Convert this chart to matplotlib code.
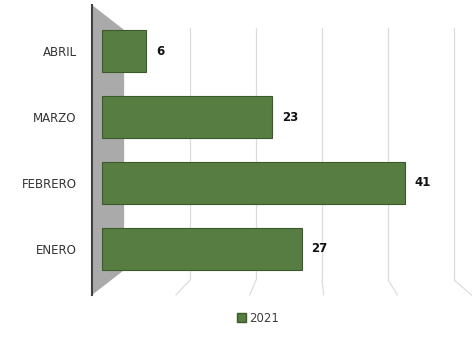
import matplotlib
matplotlib.use("Agg")
import matplotlib.pyplot as plt
from matplotlib.patches import Polygon, ConnectionPatch, Patch

# datos
meses = ["ENERO", "FEBRERO", "MARZO", "ABRIL"]
valores = [27, 41, 23, 6]
serie = "2021"
grid_vals = [10, 20, 30, 40, 50]

verde = "#587d42"
verde_borde = "#3b5a2a"

fig = plt.figure(figsize=(4.74, 3.49), dpi=100)

# pared del fondo (solo lineas de cuadricula)
back = fig.add_axes([124 / 474, 69 / 349, 346 / 474, 252 / 349])
back.set_xlim(0, 52.4)
back.set_ylim(0, 1)
for v in grid_vals:
    back.axvline(v, color="#dcdcdc", lw=0.9)
back.axis("off")

# eje frontal
ax = fig.add_axes([92 / 474, 54 / 349, 378 / 474, 290 / 349])
ax.patch.set_visible(False)
ax.set_xlim(-1.35, 49.8)
ax.set_ylim(-0.7, 3.7)

# pared lateral gris
wall = Polygon([(0, 1), (0.085, 0.914), (0.085, 0.086), (0, 0)],
               closed=True, transform=ax.transAxes, facecolor="#aaaaaa",
               edgecolor="none", zorder=0)
ax.add_patch(wall)

# lineas del piso
for v in grid_vals:
    con = ConnectionPatch(xyA=(v, 0), coordsA=back.transData,
                          xyB=(v, -0.7), coordsB=ax.transData,
                          color="#dcdcdc", lw=0.9)
    fig.add_artist(con)

ypos = list(range(len(meses)))
bars = ax.barh(ypos, valores, height=0.64, color=verde,
               edgecolor=verde_borde, linewidth=0.8, zorder=3)

for y, v in zip(ypos, valores):
    ax.annotate(str(v), xy=(v, y), xytext=(7, 0), textcoords="offset points",
                ha="left", va="center", fontsize=8.5, fontweight="bold",
                color="#111111", zorder=4)

ax.set_yticks(ypos)
ax.set_yticklabels(meses, fontsize=8.5, color="#333333")
ax.tick_params(axis="y", length=0, pad=11)
ax.set_xticks([])
for s in ["top", "right", "bottom"]:
    ax.spines[s].set_visible(False)
ax.spines["left"].set_color("#404040")
ax.spines["left"].set_linewidth(1.5)

fig.legend(handles=[Patch(facecolor=verde, edgecolor=verde_borde, label=serie)],
           loc="center", bbox_to_anchor=(258 / 474, 31 / 349), frameon=False,
           fontsize=8.5, handlelength=0.8, handleheight=0.8, handletextpad=0.3,
           labelcolor="#404040")

fig.savefig("out.png", dpi=100)
